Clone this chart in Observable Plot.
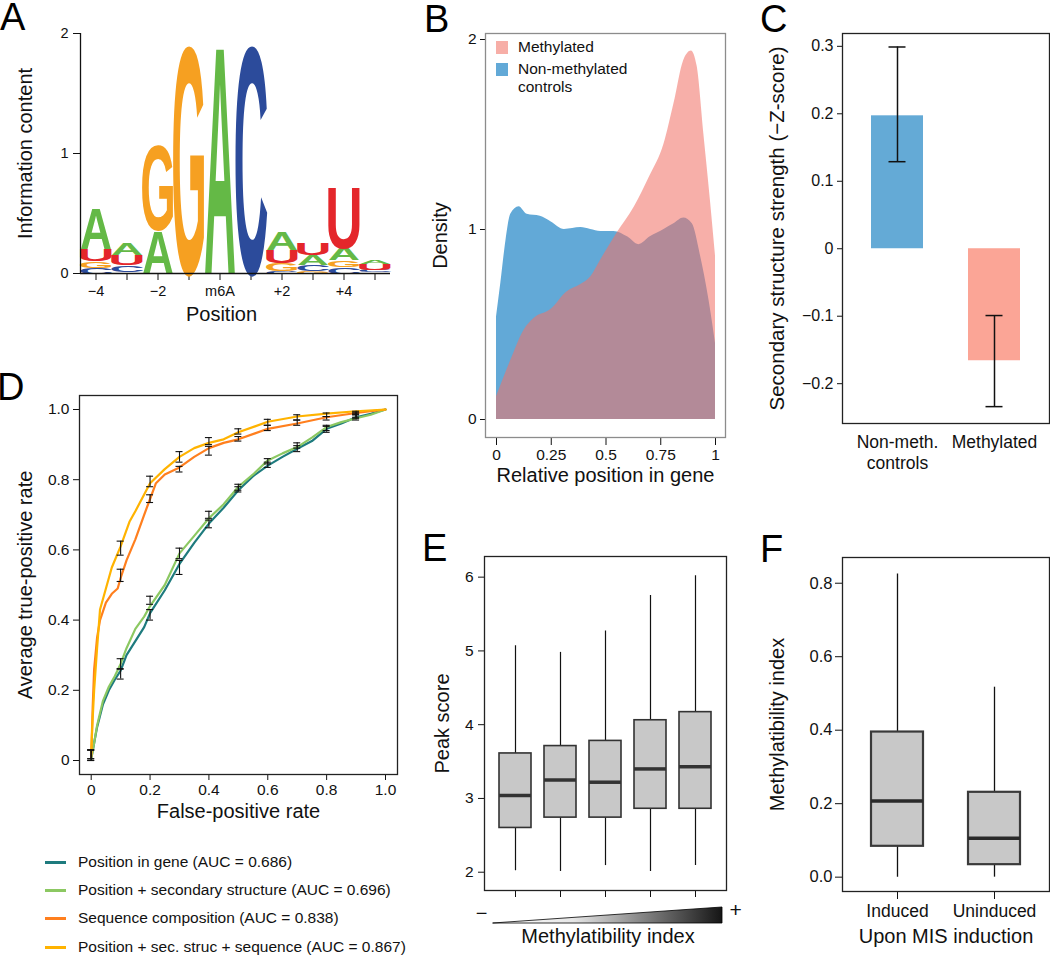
<!DOCTYPE html>
<html><head><meta charset="utf-8">
<script src="https://cdn.jsdelivr.net/npm/d3@7"></script>
<script src="https://cdn.jsdelivr.net/npm/@observablehq/plot@0.6"></script>
<style>
html,body{margin:0;padding:0;background:#fff;}
#root{position:relative;width:1050px;height:955px;overflow:hidden;font-family:"Liberation Sans",Arial,Helvetica,sans-serif;color:#111;}
.panel{position:absolute;}
.panel svg{display:block;overflow:visible;}
.plabel{position:absolute;font-size:38px;line-height:38px;color:#000;}
.lg{position:absolute;font-size:15.5px;line-height:18px;white-space:nowrap;color:#111;}
.sw{position:absolute;}
</style></head><body><div id="root"></div>
<script>
const FONT = '"Liberation Sans", Arial, Helvetica, sans-serif';
const root = document.getElementById("root");

// ---------------- DATA ----------------
// Panel A: sequence logo (bits per letter, bottom to top)
const logoPositions = [-4, -3, -2, -1, 0, 1, 2, 3, 4, 5];
const logoTickLabels = ["−4", "", "−2", "", "m6A", "", "+2", "", "+4", ""];
const logoLetters = ["A", "C", "G", "U"];
const logoColors = ["#64b946", "#2c4b9b", "#f6a021", "#e4262b"];
const logoStacks = [
  [["C", 0.05], ["G", 0.055], ["U", 0.10], ["A", 0.34]],
  [["G", 0.015], ["C", 0.055], ["U", 0.085], ["A", 0.095]],
  [["A", 0.36], ["G", 0.72]],
  [["G", 1.94]],
  [["A", 1.94]],
  [["C", 1.94]],
  [["C", 0.02], ["G", 0.07], ["U", 0.11], ["A", 0.15]],
  [["G", 0.02], ["C", 0.05], ["A", 0.085], ["U", 0.10]],
  [["C", 0.055], ["G", 0.055], ["A", 0.105], ["U", 0.52]],
  [["G", 0.01], ["C", 0.02], ["U", 0.05], ["A", 0.035]]
];
const logoInkWidth = {A: 0.70, C: 0.64, G: 0.68, U: 0.60};
const logoYTicks = [0, 1, 2];

// Panel B: density of relative position in gene
const bTicksX = [0, 0.25, 0.5, 0.75, 1];
const bTicksY = [0, 1, 2];
const methX = [0, 0.065, 0.126, 0.17, 0.25, 0.32, 0.385, 0.43, 0.476, 0.55, 0.63, 0.70, 0.765, 0.81, 0.855, 0.89, 0.916, 0.947, 0.977, 1.0];
const methY = [0.12, 0.31, 0.47, 0.53, 0.58, 0.67, 0.71, 0.75, 0.84, 0.98, 1.12, 1.28, 1.45, 1.66, 1.89, 1.94, 1.86, 1.5, 1.15, 0.86];
const nonX = [0, 0.02, 0.043, 0.065, 0.103, 0.14, 0.2, 0.25, 0.31, 0.385, 0.43, 0.476, 0.536, 0.6, 0.65, 0.70, 0.765, 0.81, 0.855, 0.894, 0.93, 0.97, 1.0];
const nonY = [0.54, 0.72, 0.94, 1.08, 1.12, 1.08, 1.07, 1.04, 1.0, 1.01, 1.0, 0.99, 0.99, 0.96, 0.92, 0.96, 1.0, 1.03, 1.06, 1.03, 0.87, 0.63, 0.40];
const bLegend = ["Methylated", "Non-methylated\ncontrols"];
const bColors = ["#f7aea7", "#62a9d7"];

// Panel C: secondary structure strength
const cGroups = ["Non-meth.\ncontrols", "Methylated"];
const cMeans = [0.197, -0.166];
const cErrLo = [0.129, -0.234];
const cErrHi = [0.299, -0.099];
const cColors = ["#64aad6", "#fba596"];
const cTicks = [-0.2, -0.1, 0, 0.1, 0.2, 0.3];

// Panel D: ROC curves
const dNames = ["Position in gene (AUC = 0.686)", "Position + secondary structure (AUC = 0.696)", "Sequence composition (AUC = 0.838)", "Position + sec. struc + sequence (AUC = 0.867)"];
const dColors = ["#1e7b7e", "#8cc862", "#ff7f1e", "#ffb300"];
const rocX1 = [0, 0.01, 0.02, 0.04, 0.06, 0.08, 0.1, 0.12, 0.15, 0.18, 0.2, 0.25, 0.3, 0.35, 0.4, 0.45, 0.5, 0.55, 0.6, 0.65, 0.7, 0.75, 0.8, 0.85, 0.9, 0.95, 1];
const rocY1 = [0.005, 0.05, 0.095, 0.16, 0.20, 0.23, 0.256, 0.30, 0.34, 0.38, 0.42, 0.485, 0.56, 0.62, 0.675, 0.72, 0.77, 0.81, 0.84, 0.865, 0.888, 0.91, 0.945, 0.96, 0.978, 0.988, 1];
const rocX2 = [0, 0.01, 0.02, 0.04, 0.06, 0.08, 0.1, 0.12, 0.15, 0.18, 0.2, 0.25, 0.3, 0.35, 0.4, 0.45, 0.5, 0.55, 0.6, 0.65, 0.7, 0.75, 0.8, 0.85, 0.9, 0.95, 1];
const rocY2 = [0.005, 0.05, 0.10, 0.17, 0.21, 0.24, 0.275, 0.32, 0.375, 0.41, 0.44, 0.50, 0.59, 0.64, 0.69, 0.73, 0.78, 0.815, 0.855, 0.875, 0.893, 0.92, 0.95, 0.964, 0.975, 0.985, 1];
const rocX3 = [0, 0.005, 0.01, 0.02, 0.03, 0.05, 0.07, 0.09, 0.1, 0.12, 0.15, 0.18, 0.2, 0.22, 0.25, 0.3, 0.35, 0.4, 0.45, 0.5, 0.6, 0.7, 0.8, 0.9, 1];
const rocY3 = [0.01, 0.15, 0.26, 0.35, 0.40, 0.45, 0.475, 0.49, 0.52, 0.57, 0.63, 0.70, 0.745, 0.79, 0.815, 0.835, 0.865, 0.89, 0.905, 0.915, 0.945, 0.96, 0.978, 0.99, 1];
const rocX4 = [0, 0.005, 0.01, 0.02, 0.03, 0.05, 0.07, 0.1, 0.13, 0.15, 0.2, 0.25, 0.3, 0.35, 0.4, 0.45, 0.5, 0.6, 0.7, 0.8, 0.9, 1];
const rocY4 = [0.02, 0.12, 0.2, 0.32, 0.43, 0.49, 0.55, 0.61, 0.68, 0.71, 0.79, 0.83, 0.865, 0.89, 0.905, 0.915, 0.935, 0.965, 0.98, 0.988, 0.995, 1];
const errX = [0, 0.1, 0.2, 0.3, 0.4, 0.5, 0.6, 0.7, 0.8, 0.9];
const errLo1 = [0.0, 0.232, 0.40, 0.53, 0.663, 0.765, 0.835, 0.88, 0.935, 0.97];
const errHi1 = [0.03, 0.262, 0.43, 0.57, 0.685, 0.78, 0.85, 0.897, 0.952, 0.985];
const errLo2 = [0.005, 0.26, 0.445, 0.575, 0.69, 0.77, 0.845, 0.89, 0.94, 0.975];
const errHi2 = [0.03, 0.29, 0.468, 0.605, 0.71, 0.787, 0.86, 0.905, 0.955, 0.99];
const errLo3 = [0.0, 0.51, 0.735, 0.822, 0.87, 0.91, 0.94, 0.955, 0.97, 0.978];
const errHi3 = [0.03, 0.545, 0.757, 0.838, 0.895, 0.923, 0.955, 0.97, 0.98, 0.99];
const errLo4 = [0.005, 0.585, 0.78, 0.85, 0.9, 0.93, 0.955, 0.97, 0.98, 0.985];
const errHi4 = [0.03, 0.625, 0.81, 0.88, 0.92, 0.945, 0.972, 0.985, 0.99, 0.995];
const dTicks = [0, 0.2, 0.4, 0.6, 0.8, 1];

// Panel E: peak score by methylatibility quintile
const eGroups = [1, 2, 3, 4, 5];
const eLow = [2.02, 2.01, 2.09, 2.01, 2.09];
const eQ1 = [2.60, 2.74, 2.74, 2.86, 2.86];
const eMed = [3.04, 3.25, 3.22, 3.40, 3.43];
const eQ3 = [3.61, 3.71, 3.78, 4.06, 4.17];
const eHigh = [5.07, 4.98, 5.27, 5.75, 6.02];
const eTicks = [2, 3, 4, 5, 6];
const miRampX = [0, 1];
const miRampH = [0, 1];

// Panel F: methylatibility index upon MIS induction
const fGroups = ["Induced", "Uninduced"];
const fLow = [0, 0];
const fQ1 = [0.084, 0.034];
const fMed = [0.207, 0.106];
const fQ3 = [0.395, 0.231];
const fHigh = [0.825, 0.517];
const fTicks = [0, 0.2, 0.4, 0.6, 0.8];

// ---------------- HELPERS ----------------
const baseStyle = (fs) => ({fontFamily: FONT, fontSize: fs + "px", overflow: "visible", background: "transparent", color: "#111"});
function place(el, left, top, w) {
  const d = document.createElement("div");
  d.className = "panel";
  d.style.left = left + "px"; d.style.top = top + "px"; d.style.width = w + "px";
  d.appendChild(el); root.appendChild(d); return el;
}
function svgOf(p) { return p.tagName.toLowerCase() === "svg" ? p : p.querySelector("svg"); }
const id = d => d;
const vTitle = (label, dx, fs) => Plot.text([label], {text: id, frameAnchor: "left", textAnchor: "middle", dx, rotate: -90, fontSize: fs});

// ---------------- PANEL A ----------------
const logoData = [];
logoStacks.forEach((stack, i) => {
  let base = 0;
  stack.forEach(([letter, h]) => { logoData.push({pos: logoPositions[i], letter, y1: base, y2: base + h}); base += h; });
});
const plotA = Plot.plot({
  width: 400, height: 340, marginLeft: 80, marginRight: 10, marginTop: 33, marginBottom: 67,
  style: baseStyle(14.5),
  x: {domain: [-4.5, 5.5], ticks: logoPositions, tickFormat: d => logoTickLabels[logoPositions.indexOf(d)], tickSize: 7, tickPadding: 5, label: null},
  y: {domain: [0, 2], ticks: logoYTicks, tickFormat: d => String(d), tickSize: 7, tickPadding: 5, label: null},
  color: {domain: logoLetters, range: logoColors},
  marks: [
    Plot.text(logoData, {x: "pos", y: "y1", text: "letter", fill: "letter", fontSize: 100, fontWeight: "bold", textAnchor: "middle", ariaLabel: "logo"}),
    Plot.ruleX([-4.5], {y1: 0, y2: 2, stroke: "#111", strokeWidth: 1.3}),
    Plot.ruleY([0], {x1: -4.5, x2: 5.5, stroke: "#111", strokeWidth: 1.3}),
    Plot.text(["Position"], {text: id, frameAnchor: "bottom", dx: -14, dy: 47, fontSize: 20}),
    vTitle("Information content", -55, 20)
  ]
});
place(plotA, 0, 0, 400);
{
  const svg = svgOf(plotA);
  const xs = plotA.scale("x"), ys = plotA.scale("y");
  const step = xs.apply(1) - xs.apply(0);
  let texts = svg.querySelectorAll('g[aria-label="logo"] text');
  if (texts.length !== logoData.length) texts = svg.querySelectorAll('g[aria-label="text"] text');
  texts.forEach((t, i) => {
    const d = logoData[i]; if (!d) return;
    const cx = xs.apply(d.pos), yb = ys.apply(d.y1), yt = ys.apply(d.y2);
    const h = Math.max(0.01, yb - yt), w = step * 1.0, F = 100;
    t.removeAttribute("dy");
    t.setAttribute("x", 0); t.setAttribute("y", 0);
    t.setAttribute("transform", `translate(${cx},${yb}) scale(${w / (logoInkWidth[d.letter] * F)},${h / (0.716 * F)})`);
  });
}

// ---------------- PANEL B ----------------
const methData = methX.map((x, i) => ({x, y: methY[i]}));
const nonData = nonX.map((x, i) => ({x, y: nonY[i]}));
const plotB = Plot.plot({
  width: 340, height: 500, marginLeft: 85, marginRight: 15, marginTop: 33, marginBottom: 63,
  style: baseStyle(15.5),
  x: {domain: [0, 1], insetLeft: 11, insetRight: 10, ticks: bTicksX, tickFormat: d => String(d), tickSize: 8, tickPadding: 3, label: null},
  y: {domain: [0, 2], insetTop: 6, insetBottom: 18, ticks: bTicksY, tickFormat: d => String(d), tickSize: 5, tickPadding: 4, label: null},
  marks: [
    Plot.areaY(nonData, {x: "x", y: "y", fill: "#62a9d7", curve: "monotone-x"}),
    Plot.areaY(methData, {x: "x", y: "y", fill: "rgb(241,115,103)", fillOpacity: 0.57, curve: "monotone-x"}),
    Plot.frame({stroke: "#8c8c8c", strokeWidth: 1.3}),
    vTitle("Density", -45, 20),
    Plot.text(["Relative position in gene"], {text: id, frameAnchor: "bottom", dy: 44, fontSize: 20})
  ]
});
place(plotB, 400, 0, 340);
// legend B
[[bColors[0], 41, bLegend[0], 38], [bColors[1], 63, bLegend[1], 60]].forEach(([c, sy, label, ty]) => {
  const s = document.createElement("div"); s.className = "sw";
  Object.assign(s.style, {left: "496px", top: sy + "px", width: "12px", height: "13px", background: c});
  root.appendChild(s);
  const t = document.createElement("div"); t.className = "lg";
  Object.assign(t.style, {left: "518px", top: ty + "px", whiteSpace: "pre"});
  t.textContent = label; root.appendChild(t);
});

// ---------------- PANEL C ----------------
const cData = cGroups.map((g, i) => ({g, m: cMeans[i], lo: cErrLo[i], hi: cErrHi[i], c: cColors[i]}));
const plotC = Plot.plot({
  width: 305, height: 480, marginLeft: 97, marginRight: 1, marginTop: 33, marginBottom: 57,
  style: baseStyle(16),
  x: {domain: cGroups, paddingInner: 0.459, paddingOuter: 0.286, axis: null},
  y: {domain: [-0.259, 0.319], ticks: cTicks, tickFormat: d => d === 0 ? "0" : d3.format(".1f")(d), tickSize: 5, tickPadding: 4, label: null},
  color: {type: "identity"},
  marks: [
    Plot.barY(cData, {x: "g", y: "m", fill: "c"}),
    Plot.ruleX(cData, {x: "g", y1: "lo", y2: "hi", stroke: "#111", strokeWidth: 1.5}),
    Plot.tickY(cData, {x: "g", y: "lo", stroke: "#111", strokeWidth: 1.5, insetLeft: 17.5, insetRight: 17.5}),
    Plot.tickY(cData, {x: "g", y: "hi", stroke: "#111", strokeWidth: 1.5, insetLeft: 17.5, insetRight: 17.5}),
    Plot.frame({stroke: "#222", strokeWidth: 1.3}),
    Plot.text(cData, {x: "g", text: "g", frameAnchor: "bottom", lineAnchor: "top", dy: 10, fontSize: 17.5, lineHeight: 1.2}),
    vTitle("Secondary structure strength (−Z-score)", -65, 20.5)
  ]
});
place(plotC, 745, 0, 305);

// ---------------- PANEL D ----------------
const rocXs = [rocX1, rocX2, rocX3, rocX4], rocYs = [rocY1, rocY2, rocY3, rocY4];
const errLos = [errLo1, errLo2, errLo3, errLo4], errHis = [errHi1, errHi2, errHi3, errHi4];
const rocData = rocXs.map((xs, k) => xs.map((x, i) => ({x, y: rocYs[k][i]})));
const errData = errLos.map((los, k) => errX.map((x, i) => ({x, lo: los[i], hi: errHis[k][i]}))).flat();
const dFmt = d => d === 0 ? "0" : d.toFixed(1);
const plotD = Plot.plot({
  width: 420, height: 460, marginLeft: 79, marginRight: 23, marginTop: 25, marginBottom: 56,
  style: baseStyle(15.5),
  x: {domain: [0, 1], insetLeft: 11.7, insetRight: 12, ticks: dTicks, tickFormat: dFmt, tickSize: 6, tickPadding: 3, label: null},
  y: {domain: [0, 1], insetTop: 14, insetBottom: 14, ticks: dTicks, tickFormat: dFmt, tickSize: 6, tickPadding: 4, label: null},
  marks: [
    ...rocData.map((pts, k) => Plot.line(pts, {x: "x", y: "y", stroke: dColors[k], strokeWidth: 2.2})),
    Plot.ruleX(errData, {x: "x", y1: "lo", y2: "hi", stroke: "#111", strokeWidth: 1.1}),
    Plot.ruleY(errData, {y: "lo", x1: "x", x2: "x", insetLeft: -3.5, insetRight: -3.5, stroke: "#111", strokeWidth: 1.1}),
    Plot.ruleY(errData, {y: "hi", x1: "x", x2: "x", insetLeft: -3.5, insetRight: -3.5, stroke: "#111", strokeWidth: 1.1}),
    Plot.frame({stroke: "#222", strokeWidth: 1.3}),
    Plot.text(["False-positive rate"], {text: id, frameAnchor: "bottom", dy: 43, fontSize: 20}),
    vTitle("Average true-positive rate", -54, 20)
  ]
});
place(plotD, 0, 370, 420);
// legend D
dNames.forEach((name, k) => {
  const cy = [862, 890, 918, 947][k];
  const s = document.createElement("div"); s.className = "sw";
  Object.assign(s.style, {left: "45px", top: (cy - 1.5) + "px", width: "21px", height: "3px", background: dColors[k]});
  root.appendChild(s);
  const t = document.createElement("div"); t.className = "lg";
  Object.assign(t.style, {left: "78px", top: (cy - 9) + "px"});
  t.textContent = name; root.appendChild(t);
});

// ---------------- PANEL E ----------------
const eData = eGroups.map((g, i) => ({g, lo: eLow[i], q1: eQ1[i], med: eMed[i], q3: eQ3[i], hi: eHigh[i]}));
const plotE = Plot.plot({
  width: 310, height: 410, marginLeft: 54, marginRight: 14, marginTop: 56, marginBottom: 20,
  style: baseStyle(15.5),
  x: {domain: eGroups, paddingInner: 0.283, paddingOuter: 0.272, tickFormat: () => "", tickSize: 7, label: null},
  y: {domain: [1.752, 6.28], ticks: eTicks, tickFormat: d => String(d), tickSize: 6, tickPadding: 5, label: null},
  marks: [
    Plot.ruleX(eData, {x: "g", y1: "lo", y2: "hi", stroke: "#111", strokeWidth: 1.2}),
    Plot.barY(eData, {x: "g", y1: "q1", y2: "q3", fill: "#c8c8c8", stroke: "#333", strokeWidth: 1.6}),
    Plot.tickY(eData, {x: "g", y: "med", stroke: "#333", strokeWidth: 3.5}),
    Plot.frame({stroke: "#222", strokeWidth: 1.3}),
    vTitle("Peak score", -42, 20)
  ]
});
place(plotE, 430, 500, 310);

const miRamp = miRampX.map((x, i) => ({x, h: miRampH[i]}));
const plotEm = Plot.plot({
  width: 310, height: 55, marginLeft: 63, marginRight: 18, marginTop: 7, marginBottom: 32,
  style: baseStyle(15.5),
  x: {domain: [0, 1], axis: null},
  y: {domain: [0, 1], axis: null},
  marks: [
    Plot.areaY(miRamp, {x: "x", y: "h", fill: "url(#miGrad)", stroke: "#000", strokeWidth: 0.8}),
    Plot.text(["−"], {text: id, frameAnchor: "left", textAnchor: "middle", dx: -12, dy: -2, fontSize: 20}),
    Plot.text(["+"], {text: id, frameAnchor: "right", textAnchor: "middle", dx: 13, dy: -5, fontSize: 21}),
    Plot.text(["Methylatibility index"], {text: id, frameAnchor: "bottom", dy: 19, fontSize: 20})
  ]
});
svgOf(plotEm).insertAdjacentHTML("afterbegin", '<defs><linearGradient id="miGrad" x1="0" x2="1" y1="0" y2="0"><stop offset="0" stop-color="#ffffff"/><stop offset="0.35" stop-color="#e6e6e6"/><stop offset="1" stop-color="#151515"/></linearGradient></defs>');
place(plotEm, 430, 900, 310);

// ---------------- PANEL F ----------------
const fData = fGroups.map((g, i) => ({g, lo: fLow[i], q1: fQ1[i], med: fMed[i], q3: fQ3[i], hi: fHigh[i]}));
const plotF = Plot.plot({
  width: 290, height: 455, marginLeft: 82, marginRight: 1, marginTop: 57, marginBottom: 64,
  style: baseStyle(16.5),
  x: {domain: fGroups, paddingInner: 0.464, paddingOuter: 0.299, tickFormat: () => "", tickSize: 8, label: null},
  y: {domain: [-0.039, 0.87], ticks: fTicks, tickFormat: d => d.toFixed(1), tickSize: 7, tickPadding: 3, label: null},
  marks: [
    Plot.ruleX(fData, {x: "g", y1: "lo", y2: "hi", stroke: "#111", strokeWidth: 1.3}),
    Plot.barY(fData, {x: "g", y1: "q1", y2: "q3", fill: "#c8c8c8", stroke: "#3a3a3a", strokeWidth: 2.2}),
    Plot.tickY(fData, {x: "g", y: "med", stroke: "#2a2a2a", strokeWidth: 3.5}),
    Plot.frame({stroke: "#222", strokeWidth: 1.3}),
    Plot.text(fData, {x: "g", text: "g", frameAnchor: "bottom", lineAnchor: "top", dy: 13, fontSize: 17.5}),
    Plot.text(["Upon MIS induction"], {text: id, frameAnchor: "bottom", dy: 51, fontSize: 20}),
    vTitle("Methylatibility index", -65, 20)
  ]
});
place(plotF, 760, 500, 290);

// ---------------- PANEL LETTERS ----------------
[["A", 0, -2], ["B", 424, 0], ["C", 760, 0], ["D", -3, 368], ["E", 422, 529], ["F", 760, 530]].forEach(([L, x, y]) => {
  const d = document.createElement("div"); d.className = "plabel";
  d.style.left = x + "px"; d.style.top = y + "px"; d.textContent = L; root.appendChild(d);
});
</script></body></html>
